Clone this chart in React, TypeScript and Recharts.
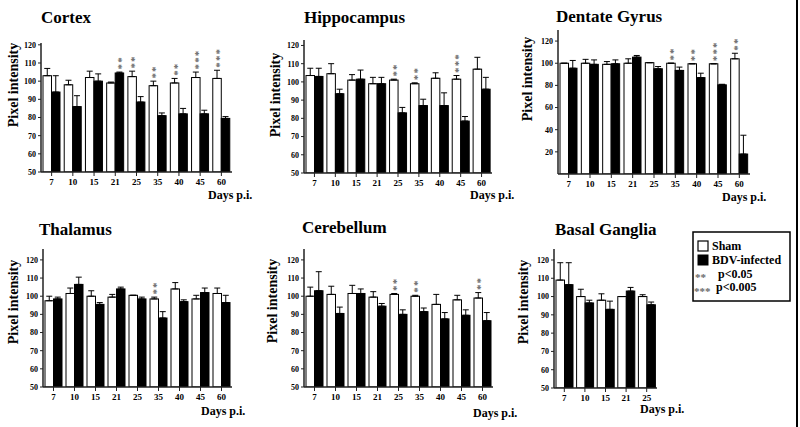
import React from "react";
import { BarChart, Bar, XAxis, YAxis, ErrorBar } from "recharts";

const FONT = "Liberation Serif, Times New Roman, DejaVu Serif, serif";

const days = ["7", "10", "15", "21", "25", "35", "40", "45", "60"];
const basalDays = ["7", "10", "15", "21", "25"];

// Cortex
const cortexSham = [103, 98, 102, 99, 102.5, 97.5, 99, 102, 101.5];
const cortexShamErr = [4, 2.5, 3.5, 0.5, 3, 2.5, 2.5, 3, 4.5];
const cortexBdv = [94, 86, 100, 104.5, 88.5, 81, 82, 82, 79.5];
const cortexBdvErr = [9, 6, 4, 0.5, 3, 1.5, 3, 2, 1];
const cortexStars = ["", "", "", "**", "**", "**", "**", "***", "***"];

// Hippocampus
const hippoSham = [103.5, 104.5, 101, 99, 101, 99, 102, 101.5, 107];
const hippoShamErr = [4, 5.5, 3, 3.5, 0.5, 0.5, 3, 2, 6.5];
const hippoBdv = [103, 93.5, 101.5, 99, 83, 87, 87, 78.5, 96];
const hippoBdvErr = [4.5, 2.5, 5, 3.5, 3, 3.5, 7, 2.5, 6.5];
const hippoStars = ["", "", "", "", "**", "**", "", "***", ""];

// Dentate Gyrus
const dentateSham = [100, 100, 99, 100, 100.5, 100, 99.5, 99.5, 104];
const dentateShamErr = [0, 3.5, 2.5, 4, 0, 0, 0, 0, 5];
const dentateBdv = [95.5, 99, 99.5, 105.5, 95, 93.5, 87, 80.5, 18];
const dentateBdvErr = [7, 4, 3.5, 1.5, 2, 3, 4, 0.5, 17];
const dentateStars = ["", "", "", "", "", "**", "**", "***", "**"];

// Thalamus
const thalSham = [97.5, 101.5, 100, 99.5, 100.5, 98.5, 104, 98.5, 101.5];
const thalShamErr = [2.5, 3, 3, 1.5, 0, 1, 3.5, 2, 3];
const thalBdv = [98.5, 106.5, 95.5, 104, 98.5, 88, 97, 102, 96.5];
const thalBdvErr = [1, 4, 1, 1, 1, 3.5, 1, 2.5, 4];
const thalStars = ["", "", "", "", "", "**", "", "", ""];

// Cerebellum
const cereSham = [100, 101, 101.5, 99.5, 101, 100, 95.5, 98, 99];
const cereShamErr = [5, 4.5, 4.5, 3, 0.5, 0.5, 5.5, 2.5, 3];
const cereBdv = [103, 90.5, 101.5, 94.5, 90, 91.5, 87.5, 89.5, 86.5];
const cereBdvErr = [10.5, 3.5, 2.5, 1.5, 2.5, 2, 3.5, 3, 4.5];
const cereStars = ["", "", "", "", "**", "**", "", "", "**"];

// Basal Ganglia
const basalSham = [109, 100, 98, 100, 100];
const basalShamErr = [9.5, 4, 3.5, 0, 1];
const basalBdv = [106.5, 96.5, 93, 103, 95.5];
const basalBdvErr = [12, 1.5, 4.5, 2, 1.5];
const basalStars = ["", "", "", "", ""];

const ticks50 = [50, 60, 70, 80, 90, 100, 110, 120];
const ticks0 = [20, 40, 60, 80, 100, 120];

function buildRows(cats: string[], sham: number[], shamErr: number[], bdv: number[], bdvErr: number[], stars: string[]) {
  return cats.map((day, i) => ({
    day,
    sham: sham[i],
    shamErr: [0, shamErr[i]],
    shamUp: shamErr[i],
    bdv: bdv[i],
    bdvErr: [0, bdvErr[i]],
    bdvUp: bdvErr[i],
    stars: stars[i],
    starOn: sham[i] + shamErr[i] >= bdv[i] + bdvErr[i] ? "sham" : "bdv",
  }));
}

type PanelProps = {
  rows: any[];
  left: number;
  top: number;
  axisX: number;
  plotRight: number;
  plotTop: number;
  plotBottom: number;
  domain: [number, number];
  ticks: number[];
};

function makeShape(key: "sham" | "bdv", min: number) {
  return (props: any) => {
    const { x, y, width, height, payload } = props;
    const white = key === "sham";
    let stars = null;
    if (payload && payload.stars && payload.starOn === key) {
      const v = payload[key];
      const up = key === "sham" ? payload.shamUp : payload.bdvUp;
      const ppu = height / (v - min);
      const bottom = y - up * ppu - 1.5;
      const cx = x + width / 2;
      // stars stacked vertically: one text turned a quarter turn
      stars = (
        <text x={bottom} y={-cx} transform="rotate(90)" textAnchor="end" dominantBaseline="central"
          fontSize={11} fontWeight="bold" fill="#6a6a6a" fontFamily={FONT} letterSpacing={1.1}>
          {payload.stars}
        </text>
      );
    }
    return (
      <g>
        <rect x={x} y={y} width={width} height={height}
          fill={white ? "#fff" : "#000"} stroke="#000" strokeWidth={1} />
        {stars}
      </g>
    );
  };
}

function Panel({ rows, left, top, axisX, plotRight, plotTop, plotBottom, domain, ticks }: PanelProps) {
  const width = plotRight - left + 4;
  const height = plotBottom - top + 22;
  return (
    <div style={{ position: "absolute", left, top, width, height }}>
      <BarChart width={width} height={height} data={rows} barGap={0} barSize={8.5}
        margin={{ top: plotTop - top, right: 4, left: 0, bottom: 2 }}>
        <XAxis dataKey="day" interval={0} height={20} tickSize={4} tickMargin={3}
          tick={{ fontSize: 9, fontWeight: "bold", fill: "#000", fontFamily: FONT }}
          axisLine={{ stroke: "#222", strokeWidth: 1.5 }} tickLine={{ stroke: "#222" }} />
        <YAxis type="number" domain={domain} ticks={ticks} allowDataOverflow width={axisX - left}
          tickSize={3} tickMargin={2}
          tick={{ fontSize: 8, fontWeight: "bold", fill: "#000", fontFamily: FONT }}
          axisLine={{ stroke: "#222", strokeWidth: 1.5 }} tickLine={{ stroke: "#222" }} />
        <Bar dataKey="sham" isAnimationActive={false} shape={makeShape("sham", domain[0])}>
          <ErrorBar dataKey="shamErr" width={3} stroke="#000" strokeWidth={1} direction="y" />
        </Bar>
        <Bar dataKey="bdv" isAnimationActive={false} shape={makeShape("bdv", domain[0])}>
          <ErrorBar dataKey="bdvErr" width={3} stroke="#000" strokeWidth={1} direction="y" />
        </Bar>
      </BarChart>
    </div>
  );
}

const titles = [
  { t: "Cortex", x: 41, y: 23 },
  { t: "Hippocampus", x: 304, y: 23 },
  { t: "Dentate Gyrus", x: 556, y: 22 },
  { t: "Thalamus", x: 39, y: 235 },
  { t: "Cerebellum", x: 302, y: 233 },
  { t: "Basal Ganglia", x: 555, y: 235 },
];
const yLabels = [
  { x: 13, y: 85 }, { x: 275, y: 95 }, { x: 527, y: 79 },
  { x: 13, y: 302 }, { x: 272, y: 301 }, { x: 523, y: 302 },
];
const dayLabels = [
  { x: 208, y: 199 }, { x: 470, y: 199 }, { x: 722, y: 201 },
  { x: 201, y: 415 }, { x: 473, y: 417 }, { x: 640, y: 413 },
];

export default function App() {
  return (
    <div style={{ position: "absolute", left: 0, top: 0, width: 800, height: 427, background: "#fff", overflow: "hidden" }}>
      <Panel rows={buildRows(days, cortexSham, cortexShamErr, cortexBdv, cortexBdvErr, cortexStars)}
        left={0} top={0} axisX={41} plotRight={232} plotTop={43} plotBottom={172} domain={[50, 121]} ticks={ticks50} />
      <Panel rows={buildRows(days, hippoSham, hippoShamErr, hippoBdv, hippoBdvErr, hippoStars)}
        left={260} top={0} axisX={304} plotRight={492} plotTop={40} plotBottom={173} domain={[50, 123]} ticks={ticks50} />
      <Panel rows={buildRows(days, dentateSham, dentateShamErr, dentateBdv, dentateBdvErr, dentateStars)}
        left={510} top={0} axisX={558} plotRight={750} plotTop={30} plotBottom={174} domain={[0, 130]} ticks={ticks0} />
      <Panel rows={buildRows(days, thalSham, thalShamErr, thalBdv, thalBdvErr, thalStars)}
        left={0} top={200} axisX={43} plotRight={232} plotTop={249} plotBottom={387} domain={[50, 126]} ticks={ticks50} />
      <Panel rows={buildRows(days, cereSham, cereShamErr, cereBdv, cereBdvErr, cereStars)}
        left={260} top={200} axisX={304} plotRight={493} plotTop={249} plotBottom={387} domain={[50, 126]} ticks={ticks50} />
      <Panel rows={buildRows(basalDays, basalSham, basalShamErr, basalBdv, basalBdvErr, basalStars)}
        left={510} top={200} axisX={554} plotRight={657} plotTop={249} plotBottom={388} domain={[50, 126]} ticks={ticks50} />

      <svg width={800} height={427} style={{ position: "absolute", left: 0, top: 0, pointerEvents: "none" }}
        fontFamily={FONT} fontWeight="bold">
        {titles.map((d) => (
          <text key={d.t} x={d.x} y={d.y} fontSize={17} fill="#000">{d.t}</text>
        ))}
        {yLabels.map((d, i) => (
          <text key={"yl" + i} x={d.x} y={d.y} fontSize={14} fill="#000" textAnchor="middle"
            dominantBaseline="central" transform={`rotate(-90 ${d.x} ${d.y})`}>Pixel intensity</text>
        ))}
        {dayLabels.map((d, i) => (
          <text key={"dl" + i} x={d.x} y={d.y} fontSize={12} fill="#000">Days p.i.</text>
        ))}
        <rect x={693} y={232} width={97} height={69} fill="#fff" stroke="#000" strokeWidth={1.5} />
        <rect x={698} y={241} width={10} height={10} fill="#fff" stroke="#000" strokeWidth={1.2} />
        <rect x={698} y={255} width={10} height={10} fill="#000" stroke="#000" strokeWidth={1} />
        <text x={712} y={250} fontSize={12} fill="#000">Sham</text>
        <text x={712} y={264} fontSize={12} fill="#000">BDV-infected</text>
        <text x={695} y={281} fontSize={11} fill="#6a6a6a">**</text>
        <text x={718} y={278} fontSize={12} fill="#000">p&lt;0.05</text>
        <text x={694} y={295} fontSize={11} fill="#6a6a6a">***</text>
        <text x={716} y={291} fontSize={12} fill="#000">p&lt;0.005</text>
        <line x1={797} y1={0} x2={797} y2={427} stroke="#000" strokeWidth={2} />
      </svg>
    </div>
  );
}
